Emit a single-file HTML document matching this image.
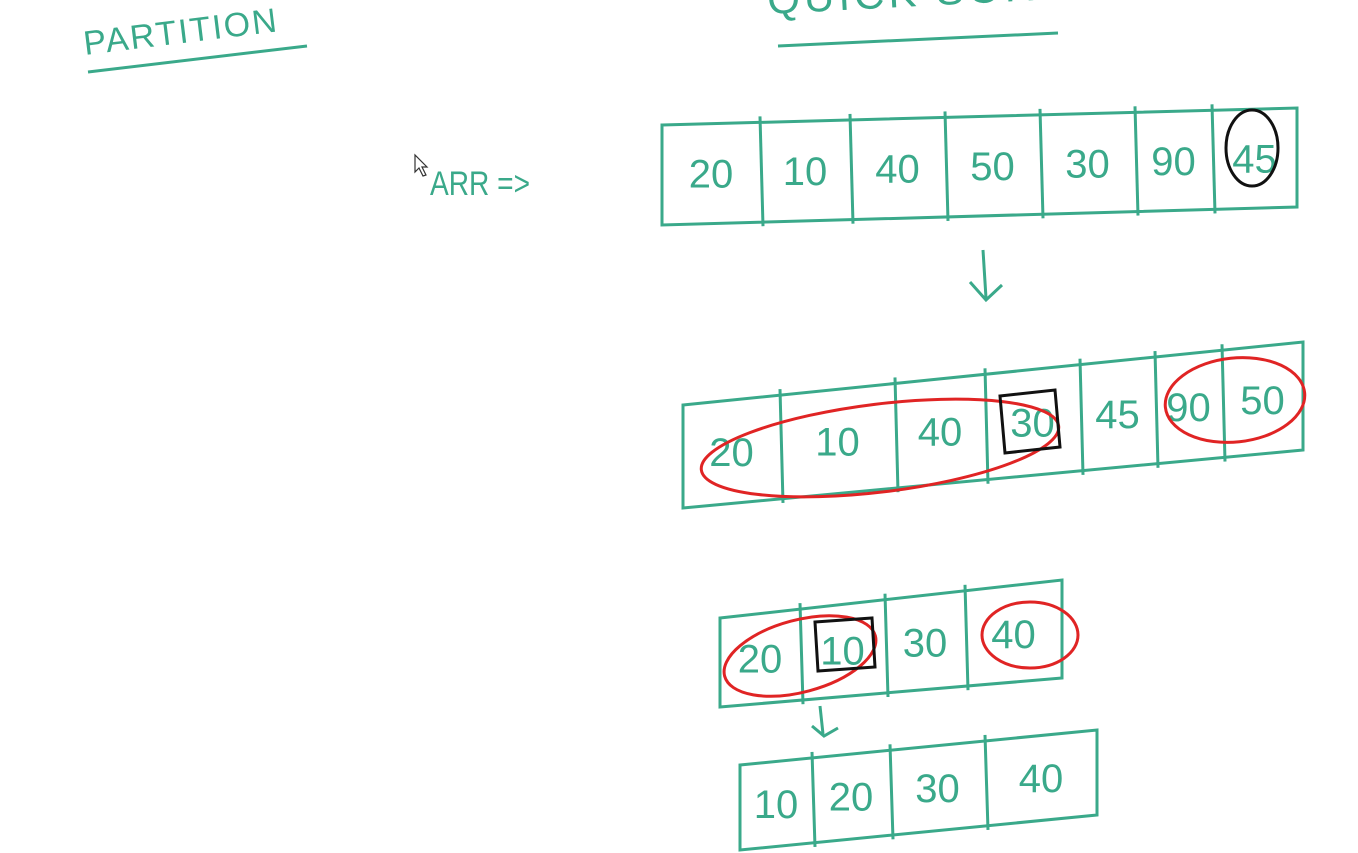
<!DOCTYPE html>
<html>
<head>
<meta charset="utf-8">
<style>
  html,body{margin:0;padding:0;background:#fff;}
  body{width:1358px;height:853px;overflow:hidden;position:relative;}
  svg{position:absolute;left:0;top:0;}
  text{font-family:"Liberation Sans",sans-serif;fill:#3aa98a;}
</style>
</head>
<body>
<svg id="board" width="1358" height="853" viewBox="0 0 1358 853">
  <g>
    <text x="85" y="55" font-size="34" transform="rotate(-7 85 55)" letter-spacing="2">PARTITION</text>
    <path d="M88 72 L307 46" stroke="#3aa98a" stroke-width="3" fill="none"/>
  </g>
  <g>
    <text x="768" y="14" font-size="42" transform="rotate(-3 768 14)" letter-spacing="4">QUICK SORT</text>
    <path d="M778 46 L1058 33" stroke="#3aa98a" stroke-width="3" fill="none"/>
  </g>
  <g>
    <path d="M415 155 L415 172 L419 168 L423 176 L426 175 L422 167 L427 167 Z" fill="#fff" stroke="#333" stroke-width="1.2"/>
  </g>
  <text x="430" y="195" font-size="34" textLength="100" lengthAdjust="spacingAndGlyphs">ARR =&gt;</text>
  <g id="rows"></g>
  <g stroke="#3aa98a" stroke-width="3" fill="none">
    <path d="M983 250 L986 298 M970 282 L986 300 L1002 285"/>
  </g>
  <g stroke="#3aa98a" stroke-width="3" fill="none">
    <path d="M820 706 L823 734 M812 726 L824 736 L838 728"/>
  </g>
  <g><ellipse cx="1252" cy="148" rx="26" ry="38" fill="none" stroke="#111" stroke-width="3"/></g>
  <g><ellipse cx="880" cy="448" rx="180" ry="44" transform="rotate(-7 880 448)" fill="none" stroke="#e02424" stroke-width="3"/></g>
  <g><path d="M1000 396 L1055 390 L1060 447 L1005 453 Z" fill="none" stroke="#111" stroke-width="3"/></g>
  <g><ellipse cx="1235" cy="400" rx="70" ry="42" transform="rotate(-6 1235 400)" fill="none" stroke="#e02424" stroke-width="3"/></g>
  <g><ellipse cx="800" cy="656" rx="78" ry="36" transform="rotate(-15 800 656)" fill="none" stroke="#e02424" stroke-width="3"/></g>
  <g><path d="M815 622 L872 618 L875 667 L818 671 Z" fill="none" stroke="#111" stroke-width="3"/></g>
  <g><ellipse cx="1030" cy="635" rx="48" ry="33" fill="none" stroke="#e02424" stroke-width="3"/></g>
</svg>
<script>
const row1Values = ["20","10","40","50","30","90","45"];
const row2Values = ["20","10","40","30","45","90","50"];
const row3Values = ["20","10","30","40"];
const row4Values = ["10","20","30","40"];
const rowsG = document.getElementById('rows');
const NS = 'http://www.w3.org/2000/svg';
function drawRow(name, values, x0, x1, tl, tr, bl, br, divs) {
  const g = document.createElementNS(NS, 'g');
  
  
  const box = document.createElementNS(NS, 'path');
  box.setAttribute('d', `M${x0} ${tl} L${x1} ${tr} L${x1} ${br} L${x0} ${bl} Z`);
  box.setAttribute('fill', 'none'); box.setAttribute('stroke', '#3aa98a'); box.setAttribute('stroke-width', '3');
  g.appendChild(box);
  const edges = [x0].concat(divs).concat([x1]);
  const yAt = (x, a, b) => a + (b - a) * (x - x0) / (x1 - x0);
  divs.forEach(x => {
    const l = document.createElementNS(NS, 'line');
    
    
    l.setAttribute('x1', x); l.setAttribute('x2', x + 3);
    l.setAttribute('y1', yAt(x, tl, tr) - 6); l.setAttribute('y2', yAt(x, bl, br) + 4);
    l.setAttribute('stroke', '#3aa98a'); l.setAttribute('stroke-width', '3');
    g.appendChild(l);
  });
  values.forEach((v, i) => {
    const cx = (edges[i] + edges[i + 1]) / 2;
    const cy = (yAt(cx, tl, tr) + yAt(cx, bl, br)) / 2;
    const t = document.createElementNS(NS, 'text');
    
    
    t.setAttribute('x', cx); t.setAttribute('y', cy + 14);
    t.setAttribute('text-anchor', 'middle'); t.setAttribute('font-size', '40');
    t.textContent = v;
    g.appendChild(t);
  });
  rowsG.appendChild(g);
}
drawRow('array-row-1', row1Values, 662, 1297, 125, 108, 225, 207, [760, 850, 945, 1040, 1135, 1212]);
drawRow('array-row-2', row2Values, 683, 1303, 405, 342, 508, 450, [780, 895, 985, 1080, 1155, 1222]);
drawRow('array-row-3', row3Values, 720, 1062, 618, 580, 707, 678, [800, 885, 965]);
drawRow('array-row-4', row4Values, 740, 1097, 765, 730, 850, 815, [812, 890, 985]);
</script>
</body>
</html>
